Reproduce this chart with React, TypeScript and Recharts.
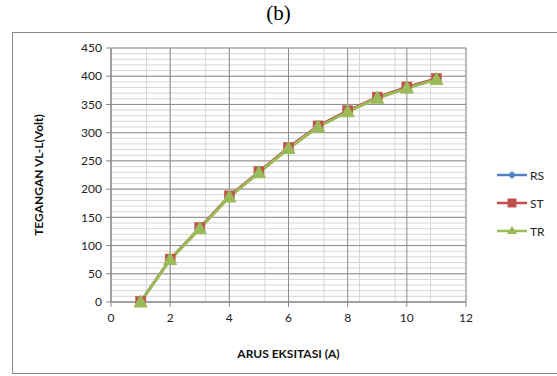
import React from 'react';
import { LineChart, Line, XAxis, YAxis, CartesianGrid } from 'recharts';

const current = [1, 2, 3, 4, 5, 6, 7, 8, 9, 10, 11];
const rsVolt = [0, 75, 131, 187, 230, 273, 311, 338, 362, 380, 395];
const stVolt = [1, 76, 132, 188, 231, 274, 312, 339, 363, 381, 396];
const trVolt = [0, 75, 130, 186, 229, 272, 310, 337, 361, 379, 394];

const xTicks = [0, 2, 4, 6, 8, 10, 12];
const yTicks = [0, 50, 100, 150, 200, 250, 300, 350, 400, 450];
const xMinor = Array.from({ length: 31 }, (_, i) => Math.round(i * 0.4 * 10) / 10);
const yMinor = Array.from({ length: 46 }, (_, i) => i * 10);

const data = current.map((x, i) => ({ x, RS: rsVolt[i], ST: stVolt[i], TR: trVolt[i] }));

const BLUE = '#4F81BD';
const RED = '#C0504D';
const GREEN = '#9BBB59';
const FONT = 'Lato, "Open Sans", sans-serif';

const Diamond = (props: any) => {
  const { cx, cy } = props;
  if (cx == null || cy == null) return null;
  return <polygon points={`${cx},${cy - 4.5} ${cx + 4.5},${cy} ${cx},${cy + 4.5} ${cx - 4.5},${cy}`} fill={BLUE} stroke={BLUE} />;
};
const Square = (props: any) => {
  const { cx, cy } = props;
  if (cx == null || cy == null) return null;
  return <rect x={cx - 5} y={cy - 5} width={10} height={10} fill={RED} stroke={RED} strokeWidth={0.5} />;
};
const Triangle = (props: any) => {
  const { cx, cy } = props;
  if (cx == null || cy == null) return null;
  return <polygon points={`${cx},${cy - 7} ${cx + 6.5},${cy + 5} ${cx - 6.5},${cy + 5}`} fill={GREEN} stroke={GREEN} />;
};

const legendItems = [
  { name: 'RS', color: BLUE, shape: 'diamond' },
  { name: 'ST', color: RED, shape: 'square' },
  { name: 'TR', color: GREEN, shape: 'triangle' },
];

const LegendContent = () => (
  <svg width={60} height={80} style={{ position: 'absolute', left: 495, top: 165 }}>
    {legendItems.map((it, i) => {
      const y = 10 + i * 28;
      const cx = 17;
      return (
        <g key={it.name}>
          <line x1={2} y1={y} x2={32} y2={y} stroke={it.color} strokeWidth={2.5} />
          {it.shape === 'diamond' && <polygon points={`${cx},${y - 4} ${cx + 4},${y} ${cx},${y + 4} ${cx - 4},${y}`} fill={it.color} />}
          {it.shape === 'square' && <rect x={cx - 4.5} y={y - 4.5} width={9} height={9} fill={it.color} />}
          {it.shape === 'triangle' && <polygon points={`${cx},${y - 5} ${cx + 5},${y + 3} ${cx - 5},${y + 3}`} fill={it.color} />}
          <text x={35} y={y + 4.5} fontSize={12} fontFamily={FONT} fill="#222">{it.name}</text>
        </g>
      );
    })}
  </svg>
);

const YLabel = (props: any) => {
  const vb = props.viewBox || {};
  const cy = vb.y + vb.height / 2;
  return (
    <text x={43} y={cy} transform={`rotate(-90, 43, ${cy})`} textAnchor="middle" fontSize={12} fontWeight="bold" fontFamily={FONT} fill="#111">
      TEGANGAN VL-L(Volt)
    </text>
  );
};

export default function App() {
  return (
    <div style={{ position: 'absolute', left: 0, top: 0, width: 557, height: 376, background: '#fff', overflow: 'hidden' }}>
      <div style={{ position: 'absolute', left: 0, top: 0, width: 557, textAlign: 'center', fontFamily: '"Liberation Serif", "Times New Roman", serif', fontSize: 21, lineHeight: '26px', color: '#000' }}>
        (b)
      </div>
      <div style={{ position: 'absolute', left: 12, top: 32, width: 560, height: 342, border: '1.5px solid #8a8a8a', boxSizing: 'border-box' }} />
      <div style={{ position: 'absolute', left: 0, top: 0, width: 557, height: 376 }}>
        <LineChart width={557} height={376} data={data} margin={{ top: 48, right: 91, bottom: 0, left: 0 }}>
          <CartesianGrid stroke="#d6d6d6" strokeWidth={1} verticalValues={xMinor} horizontalValues={yMinor} />
          <CartesianGrid stroke="#8c8c8c" strokeWidth={1} verticalValues={xTicks} horizontalValues={yTicks} />
          <XAxis
            dataKey="x"
            type="number"
            domain={[0, 12]}
            ticks={xTicks}
            stroke="#868686"
            tickSize={5}
            tick={{ fontSize: 12, fontFamily: FONT, fill: '#222' }}
            tickMargin={6}
            height={74}
            label={{ value: 'ARUS EKSITASI (A)', position: 'insideTop', offset: 47, fontSize: 12, fontWeight: 'bold', fontFamily: FONT, fill: '#111' }}
          />
          <YAxis
            type="number"
            domain={[0, 450]}
            ticks={yTicks}
            stroke="#868686"
            tickSize={5}
            tickMargin={4}
            width={111}
            interval={0}
            tick={{ fontSize: 12, fontFamily: FONT, fill: '#222' }}
            label={<YLabel />}
          />
          <Line dataKey="RS" name="RS" stroke={BLUE} strokeWidth={2.5} dot={<Diamond />} isAnimationActive={false} legendType="diamond" />
          <Line dataKey="ST" name="ST" stroke={RED} strokeWidth={2.5} dot={<Square />} isAnimationActive={false} legendType="square" />
          <Line dataKey="TR" name="TR" stroke={GREEN} strokeWidth={3} dot={<Triangle />} isAnimationActive={false} legendType="triangle" />
        </LineChart>
      </div>
      <LegendContent />
    </div>
  );
}
